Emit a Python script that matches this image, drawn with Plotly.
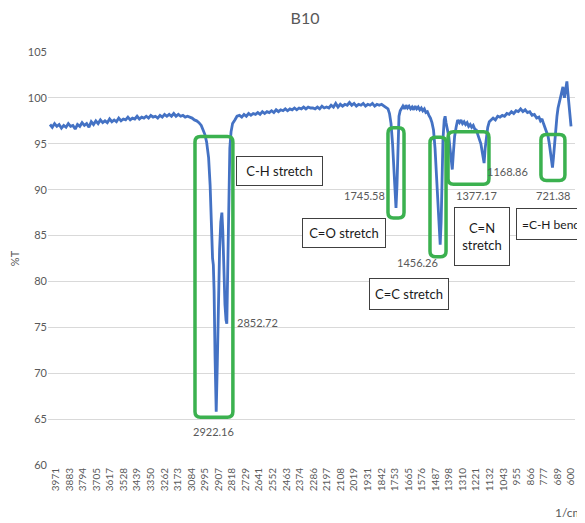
import plotly.graph_objects as go

# ---- data (wavenumber in 1/cm, %T) ----
wavenumber = [
    4010, 3995, 3980, 3965, 3950, 3935, 3920, 3905, 3890, 3875, 3860, 3845, 3830, 3815, 3800,
    3785, 3770, 3755, 3740, 3725, 3710, 3695, 3680, 3665, 3650, 3635, 3620, 3605, 3590, 3575,
    3560, 3545, 3530, 3515, 3500, 3485, 3470, 3455, 3440, 3425, 3410, 3395, 3380, 3365, 3350,
    3335, 3320, 3305, 3290, 3275, 3260, 3245, 3230, 3215, 3200, 3185, 3170, 3155, 3140, 3125,
    3110, 3095, 3080, 3065, 3050, 3035, 3020, 3008, 2996, 2985, 2972, 2962, 2952, 2946, 2941,
    2936, 2930, 2922.16, 2915, 2908, 2900, 2892, 2885, 2879, 2872, 2865, 2858, 2852.72, 2846,
    2840, 2833, 2825, 2815, 2800, 2786,
    2770, 2755, 2740, 2725, 2710, 2695, 2680, 2665, 2650, 2635, 2620, 2605, 2590, 2575, 2560,
    2545, 2530, 2515, 2500, 2485, 2470, 2455, 2440, 2425, 2410, 2395, 2380, 2365, 2350, 2335,
    2320, 2305, 2290, 2275, 2260, 2245, 2230, 2215, 2200, 2185, 2170, 2155, 2140, 2125, 2110,
    2095, 2080, 2065, 2050, 2035, 2020, 2005, 1990, 1975, 1960, 1945, 1930, 1915, 1900, 1885,
    1870, 1855, 1840, 1825, 1810, 1798, 1788, 1778, 1768, 1760, 1752, 1745.58, 1739, 1733, 1726,
    1718, 1710, 1700, 1690, 1680, 1670, 1660, 1650, 1640, 1630, 1620, 1610, 1600, 1590, 1580,
    1570, 1560, 1550, 1540, 1530, 1520, 1510, 1500, 1490, 1480, 1470, 1462, 1456.26, 1450, 1444,
    1438, 1430, 1424, 1418, 1410, 1400, 1392, 1385, 1377.17, 1370, 1362, 1352, 1342, 1330, 1320,
    1310, 1300, 1290, 1280, 1270, 1260, 1250, 1240, 1230, 1220, 1210, 1200, 1190, 1180, 1174,
    1168.86, 1162, 1155, 1145, 1135, 1125, 1110, 1095, 1080, 1065, 1050, 1035, 1020, 1005, 990,
    975, 960, 945, 930, 915, 900, 885, 870, 855, 840, 825, 810, 800, 790, 780,
    770, 760, 750, 742, 735, 728, 721.38, 715, 708, 700, 692, 685, 678, 672, 665,
    658, 653, 648, 643, 638, 632, 627, 622, 617, 613, 608, 603, 600,
]
transmittance = [
    97.1, 96.8, 97.2, 96.9, 97.1, 96.7, 97.0, 96.8, 97.2, 96.9, 97.0, 96.6, 97.1, 96.9, 97.3,
    97.0, 97.2, 96.8, 97.4, 97.1, 97.5, 97.2, 97.6, 97.3, 97.5, 97.3, 97.7, 97.4, 97.6, 97.4,
    97.8, 97.5, 97.7, 97.6, 97.9, 97.6, 97.8, 97.7, 98.0, 97.7, 97.9, 97.8, 98.0, 97.8, 98.1,
    97.9, 98.0, 97.8, 98.1, 97.9, 98.2, 98.0, 98.2, 98.0, 98.3, 98.0, 98.2, 98.0, 98.1, 97.9,
    98.0, 97.9, 97.8, 97.6, 97.5, 97.3, 97.0, 96.5, 96.0, 95.2, 93.5, 90.5, 85.0, 82.5, 81.8,
    79.0, 72.0, 65.8, 71.0, 78.0, 83.5, 86.5, 87.5, 85.5, 81.0, 77.5, 75.8, 75.4, 82.0,
    89.0, 94.5, 96.3, 97.2, 97.6, 98.0,
    98.1, 97.9, 98.2, 98.0, 98.3, 98.1, 98.3, 98.2, 98.4, 98.2, 98.5, 98.3, 98.5, 98.4, 98.6,
    98.4, 98.7, 98.5, 98.7, 98.6, 98.8, 98.6, 98.8, 98.7, 98.9, 98.7, 98.9, 98.8, 99.0, 98.8,
    99.0, 98.9, 98.9, 98.8, 99.0, 98.8, 99.1, 98.9, 99.0, 98.9, 99.2, 99.0, 99.4, 99.0, 99.3,
    99.1, 99.3, 99.2, 99.5, 99.2, 99.4, 99.1, 99.3, 99.2, 99.4, 99.1, 99.3, 99.2, 99.4, 99.1,
    99.3, 99.2, 99.3, 99.1, 99.0, 98.8, 98.3, 97.2, 95.0, 92.0, 89.0, 88.0, 90.5, 95.5, 98.0,
    98.6, 98.8, 99.1, 98.8, 99.2, 98.9, 99.1, 98.8, 99.0, 98.7, 99.1, 98.8, 99.0, 98.7, 98.9,
    98.6, 98.8, 98.4, 98.5, 98.1, 97.8, 97.3, 96.5, 94.5, 91.0, 87.5, 85.0, 84.0, 86.5, 91.5,
    95.5, 97.6, 98.0, 97.3, 96.5, 95.8, 94.5, 93.0, 92.2, 94.0, 95.8, 96.8, 97.6, 97.3, 97.6,
    97.2, 97.4, 97.1, 97.3, 96.9, 97.1, 96.8, 97.0, 96.6, 96.5, 96.0, 95.6, 95.0, 94.0, 93.3,
    92.9, 94.5, 95.8, 96.8, 97.4, 97.6, 97.8, 97.6, 98.0, 97.9, 98.1, 98.0, 98.3, 98.2, 98.5,
    98.3, 98.6, 98.5, 98.8, 98.5, 98.7, 98.4, 98.5, 98.1, 98.2, 97.8, 97.9, 97.5, 97.7, 97.2,
    96.8, 96.3, 95.8, 95.0, 94.0, 93.0, 92.4, 93.5, 95.0, 96.8, 98.0, 98.9, 99.4, 99.6, 100.3,
    100.8, 101.2, 100.6, 100.0, 100.6, 101.5, 101.8, 100.8, 100.0, 99.2, 98.0, 97.2, 96.9,
]
tick_labels = [3971, 3883, 3794, 3705, 3617, 3528, 3439, 3350, 3262, 3173, 3084, 2995, 2907,
               2818, 2729, 2641, 2552, 2463, 2374, 2286, 2197, 2108, 2019, 1931, 1842, 1753,
               1665, 1576, 1487, 1398, 1310, 1221, 1132, 1043, 955, 866, 777, 689, 600]
y_ticks = [60, 65, 70, 75, 80, 85, 90, 95, 100, 105]
peak_labels = ["2922.16", "2852.72", "1745.58", "1456.26", "1377.17", "1168.86", "721.38"]
group_labels = ["C-H stretch", "C=O stretch", "C=C stretch", "C=N<br>stretch", "=C-H bend"]

GREY = "#595959"
GREEN = "#3bb14f"
FONT = "Lato, Carlito, Liberation Sans, sans-serif"

# the page body has an 8px margin, so the figure is sized to fit inside the window
W, H = 577, 515

fig = go.Figure()
fig.add_trace(go.Scatter(x=wavenumber, y=transmittance, mode="lines",
                         line=dict(color="#4472c4", width=2.8), hoverinfo="skip"))

# green rounded boxes around bands: (left wn, right wn, top %T, bottom %T)
boxes = [(3061, 2813, 95.8, 65.2), (1798, 1693, 96.75, 86.9), (1523, 1418, 95.7, 82.7),
         (1405, 1137, 96.3, 90.6), (797, 640, 96.0, 91.0)]
rx, ry = 36, 0.6
for L, R, T, B in boxes:
    path = (f"M {L-rx},{T} L {R+rx},{T} Q {R},{T} {R},{T-ry} L {R},{B+ry} "
            f"Q {R},{B} {R+rx},{B} L {L-rx},{B} Q {L},{B} {L},{B+ry} "
            f"L {L},{T-ry} Q {L},{T} {L-rx},{T} Z")
    fig.add_shape(type="path", path=path, xref="x", yref="y",
                  line=dict(color=GREEN, width=3.5))

# peak number labels
peak_pos = [(2943, 63.6), (2649, 75.5), (1949, 89.4), (1608, 82.1), (1216, 89.4),
            (1013, 92.0), (712, 89.4)]
for txt, (x, y) in zip(peak_labels, peak_pos):
    fig.add_annotation(x=x, y=y, text=txt, showarrow=False,
                       font=dict(family=FONT, size=11, color=GREY))

# boxed group labels
grp_pos = [(2508, 92.0, 83, 26, 13), (2086, 85.3, 80, 26, 13), (1661, 78.65, 76, 28, 13),
           (1183, 84.9, 52, 55, 13), (728, 86.3, 66, 28, 12)]
for txt, (x, y, w, h, fs) in zip(group_labels, grp_pos):
    fig.add_annotation(x=x, y=y, text=txt, showarrow=False, width=w, height=h,
                       bgcolor="white", bordercolor="#404040", borderwidth=1, borderpad=1,
                       font=dict(family=FONT, size=fs, color="#1a1a1a"))

fig.add_annotation(xref="paper", yref="paper", x=(W - 40) / (W - 50), y=-0.115,
                   xanchor="right", yanchor="middle", text="1/cm", showarrow=False,
                   font=dict(family=FONT, size=12, color=GREY))

fig.update_layout(
    width=W, height=H,
    margin=dict(l=40, r=10, t=44, b=58),
    paper_bgcolor="white", plot_bgcolor="white",
    showlegend=False,
    title=dict(text="B10", x=297 / W, xref="container", y=1 - 10 / H, yref="container",
               xanchor="center", yanchor="middle",
               font=dict(family=FONT, size=16, color=GREY)),
    xaxis=dict(range=[4023, 574], tickmode="array", tickvals=tick_labels,
               ticktext=[str(t) for t in tick_labels], tickangle=-90, showgrid=False,
               zeroline=False, showline=False, ticks="", automargin=False,
               tickfont=dict(family=FONT, size=10, color=GREY)),
    yaxis=dict(range=[60, 105], tickmode="array", tickvals=y_ticks, showgrid=True,
               gridcolor="#d9d9d9", gridwidth=1, zeroline=False, showline=False,
               ticks="", ticklen=0, automargin=False,
               tickfont=dict(family=FONT, size=11, color=GREY),
               title=dict(text="%T", standoff=10,
                          font=dict(family=FONT, size=11, color=GREY))),
)

fig.write_html("out.html")
